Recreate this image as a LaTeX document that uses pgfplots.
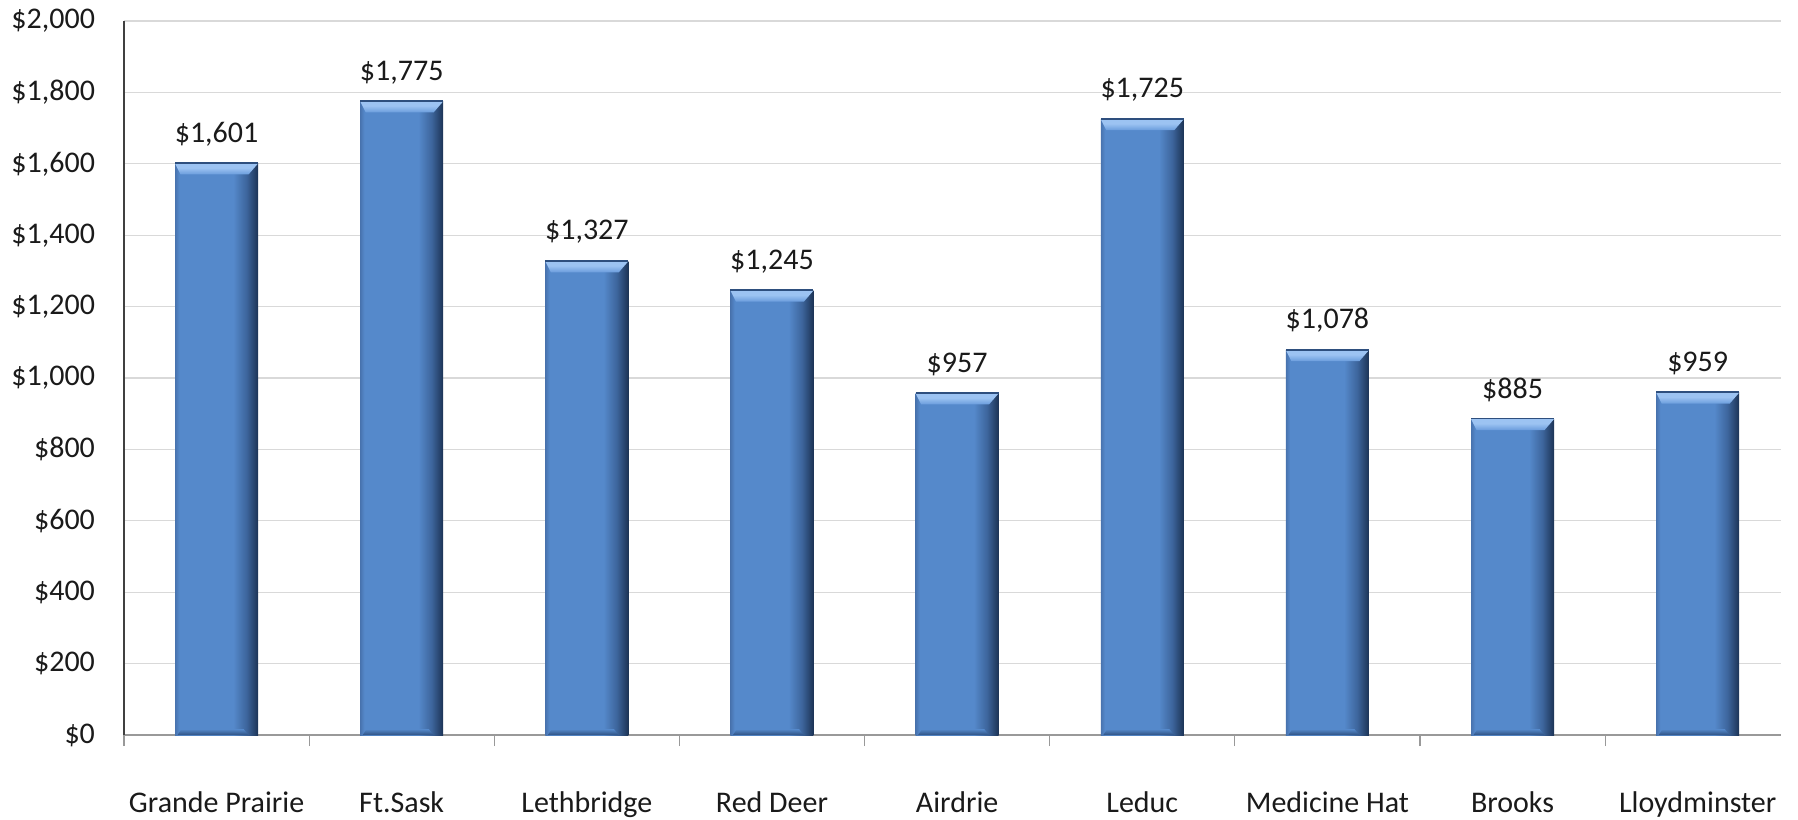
\documentclass[border=0pt]{standalone}
\usepackage{pgfplots}
\pgfplotsset{compat=1.18}
\usepackage{pgfplotstable}
\usepackage{fontspec}
\setmainfont{Carlito}

\definecolor{barL}{HTML}{4873AE}
\definecolor{barM}{HTML}{5589CB}
\definecolor{barR}{HTML}{1C3355}
\definecolor{barR2}{HTML}{3D659C}
\definecolor{bevL}{HTML}{9CC3F2}
\definecolor{bevT}{HTML}{6A9CDC}
\definecolor{bevE}{HTML}{2E4F7E}
\definecolor{botD}{HTML}{2F5283}
\definecolor{gridc}{HTML}{D9D9D9}
\definecolor{txt}{HTML}{1A1A1A}

% bar body: slightly darker left edge, dark right edge
\pgfdeclarehorizontalshading{barbody}{100bp}{%
  color(0bp)=(barL); color(25bp)=(barL); color(27.5bp)=(barM);
  color(60bp)=(barM); color(68bp)=(barR2); color(75bp)=(barR); color(100bp)=(barR)}
% bevelled top of each bar
\pgfdeclareverticalshading{barbevel}{100bp}{%
  color(0bp)=(bevT); color(25bp)=(bevT); color(55bp)=(bevL);
  color(75bp)=(bevL); color(100bp)=(bevL)}
% darker foot of each bar
\pgfdeclareverticalshading{barfoot}{100bp}{%
  color(0bp)=(botD); color(25bp)=(botD); color(75bp)=(barM); color(100bp)=(barM)}

% bevel drawn as a mark sitting on the top edge of a bar
\pgfdeclareplotmark{bevel}{%
  \pgfpathmoveto{\pgfpoint{-20.75pt}{0pt}}%
  \pgfpathlineto{\pgfpoint{20.75pt}{0pt}}%
  \pgfpathlineto{\pgfpoint{16pt}{-5.5pt}}%
  \pgfpathlineto{\pgfpoint{-18pt}{-5.5pt}}%
  \pgfpathclose
  \pgfshadepath{barbevel}{0}%
  \pgfusepath{}%
  \pgfsetlinewidth{0.8pt}%
  \pgfsetstrokecolor{bevE}%
  \pgfpathmoveto{\pgfpoint{-20.75pt}{0.2pt}}%
  \pgfpathlineto{\pgfpoint{20.75pt}{0.2pt}}%
  \pgfusepath{stroke}%
}
% darker foot drawn at the base of a bar
\pgfdeclareplotmark{foot}{%
  \pgfpathmoveto{\pgfpoint{-19.5pt}{0pt}}%
  \pgfpathlineto{\pgfpoint{16pt}{0pt}}%
  \pgfpathlineto{\pgfpoint{13.5pt}{3pt}}%
  \pgfpathlineto{\pgfpoint{-17.5pt}{3pt}}%
  \pgfpathclose
  \pgfshadepath{barfoot}{0}%
  \pgfusepath{}%
}

\pgfplotstableread{
x v
0 1601
1 1775
2 1327
3 1245
4 957
5 1725
6 1078
7 885
8 959
}\rent

\begin{document}
\begin{tikzpicture}[font=\fontsize{15}{18}\selectfont, text=txt]
\path[use as bounding box] (0,0) rectangle (899pt,409.5pt);
\begin{axis}[
  at={(62pt,42pt)}, anchor=south west,
  scale only axis, width=828.5pt, height=357pt,
  xmin=-0.5, xmax=8.45, ymin=0, ymax=2000,
  ytick={0,200,...,2000},
  xtick={0,...,8},
  xticklabels={Grande Prairie,Ft.Sask,Lethbridge,Red Deer,Airdrie,Leduc,Medicine Hat,Brooks,Lloydminster},
  minor xtick={-0.5,0.5,...,8.5},
  major tick length=0pt, minor tick length=5.5pt,
  tick align=outside,
  minor tick style={draw=gray!80, line width=0.6pt},
  axis x line*=bottom, axis y line*=left,
  x axis line style={draw=gray!80, line width=0.8pt},
  y axis line style={draw=black!75, line width=0.8pt},
  ymajorgrids, major grid style={draw=gridc, line width=0.6pt},
  scaled y ticks=false,
  /pgf/number format/.cd, fixed, precision=0, 1000 sep={,}, assume math mode=true,
  /pgfplots/.cd,
  yticklabel={\$\pgfmathprintnumber{\tick}},
  yticklabel style={xshift=-11pt},
  xticklabel style={yshift=-25pt},
  clip=false,
]
% one plot per bar so that each bar gets its own shading
\pgfplotsinvokeforeach{0,...,8}{
  \addplot[ybar, bar width=41.5pt, bar shift=0pt, draw=none, shade, shading=barbody,
    restrict x to domain=#1:#1]
    table[x=x, y=v] {\rent};
}
% darker feet
\addplot[only marks, mark=foot] table[x=x, y expr=0] {\rent};
% bevelled tops and value labels
\addplot[only marks, mark=bevel, point meta=explicit,
  nodes near coords={\$\pgfmathprintnumber{\pgfplotspointmeta}},
  nodes near coords style={anchor=south, yshift=5pt, text=txt}]
  table[x=x, y=v, meta=v] {\rent};
\end{axis}
\end{tikzpicture}
\end{document}
